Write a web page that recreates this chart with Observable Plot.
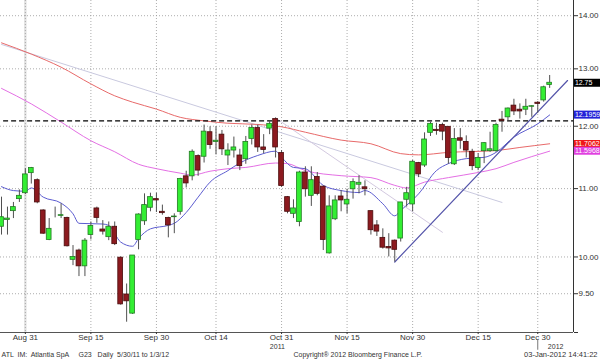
<!DOCTYPE html>
<html><head><meta charset="utf-8">
<script src="https://cdn.jsdelivr.net/npm/d3@7"></script>
<script src="https://cdn.jsdelivr.net/npm/@observablehq/plot@0.6"></script>
<style>
html,body{margin:0;padding:0;background:#fff;}
svg text{white-space:pre;}
</style></head><body><div id="chart"></div>
<script>
// Daily bars, Aug 25 2011 (index 0) .. Jan 3 2012 (index 92), trading days only
const opens = [10.43,10.53,10.66,10.84,10.93,11.24,11.13,10.67,10.24,10.64,
  10.59,10.56,9.96,10.09,9.87,10.31,10.70,10.39,10.28,10.43,
  9.99,9.49,9.24,10.24,10.51,10.71,10.84,10.65,10.56,10.57,
  10.65,11.19,11.19,11.51,11.50,11.90,11.74,11.86,11.52,11.60,
  11.52,11.46,11.79,11.97,11.65,11.96,12.12,11.56,10.87,10.62,
  10.50,11.25,10.89,11.18,11.03,10.05,10.54,10.88,10.76,10.99,
  11.06,11.02,10.66,10.45,10.27,10.14,10.23,10.26,10.83,10.76,
  11.40,11.36,11.89,11.94,12.02,11.99,11.38,11.80,11.74,11.58,
  11.32,11.59,11.59,11.59,12.11,12.15,12.35,12.28,12.28,12.33,
  12.40,12.44,12.71];
const highs = [10.87,10.72,10.79,10.98,11.31,11.33,11.15,10.68,10.55,10.72,
  10.77,10.57,10.16,10.11,10.26,10.50,10.72,10.52,10.50,10.50,
  10.00,9.63,10.02,10.62,10.92,10.93,10.93,10.75,10.57,10.62,
  11.16,11.27,11.61,11.53,12.02,11.99,11.99,11.93,11.71,11.82,
  11.62,11.83,12.02,12.02,11.86,12.09,12.14,11.60,10.88,10.83,
  11.27,11.34,11.34,11.25,11.04,10.89,10.89,10.97,10.99,11.15,
  11.20,11.12,10.66,10.52,10.40,10.33,10.24,10.79,11.02,11.44,
  11.41,11.89,12.07,12.05,12.05,11.99,11.96,11.96,11.84,11.62,
  11.55,11.73,11.90,12.05,12.25,12.31,12.46,12.38,12.46,12.35,
  12.42,12.69,12.88];
const lows = [10.31,10.31,10.55,10.79,10.91,11.07,10.77,10.32,10.23,10.56,
  10.55,10.14,9.88,9.73,9.73,10.24,10.48,10.31,10.23,10.16,
  9.35,9.13,9.23,10.10,10.45,10.65,10.64,10.60,10.27,10.33,
  10.60,11.01,11.12,11.19,11.40,11.62,11.53,11.52,11.36,11.48,
  11.28,11.38,11.69,11.57,11.55,11.86,11.48,11.02,10.62,10.55,
  10.43,10.87,10.73,10.89,10.09,10.04,10.52,10.65,10.62,10.84,
  10.92,10.89,10.31,10.29,10.11,10.00,9.93,10.21,10.72,10.65,
  11.17,11.33,11.83,11.85,11.76,11.38,11.36,11.62,11.48,11.28,
  11.28,11.39,11.57,11.57,11.90,12.09,12.18,12.12,12.18,12.15,
  12.22,12.41,12.65];
const closes = [10.57,10.55,10.72,10.89,11.22,11.32,10.79,10.33,10.40,10.64,
  10.60,10.15,10.00,9.87,10.23,10.44,10.56,10.36,10.43,10.18,
  9.36,9.40,10.02,10.61,10.75,10.87,10.82,10.63,10.45,10.58,
  11.15,11.08,11.58,11.28,11.91,11.69,11.76,11.62,11.60,11.65,
  11.35,11.74,11.97,11.65,11.61,12.04,11.65,11.04,10.65,10.70,
  11.25,10.99,11.13,10.92,10.24,10.73,10.82,10.82,10.83,11.10,
  11.09,10.99,10.38,10.36,10.13,10.12,10.10,10.79,10.93,11.42,
  11.22,11.78,12.04,11.92,11.91,11.48,11.79,11.76,11.60,11.35,
  11.48,11.72,11.62,12.02,12.09,12.30,12.25,12.25,12.33,12.34,
  12.38,12.67,12.75];

// x-axis ticks (bar index) and their labels
const tickIdx = [4,15,26,36,47,58,69,80,90];
const tickLabels = ["Aug 31","Sep 15","Sep 30","Oct 14","Oct 31","Nov 15","Nov 30","Dec 15","Dec 30"];
const yearIdx = [46.3,93];
const yearLabels = ["2011","2012"];
const priceTicks = [14,13,12,11,10,9.5,9];

// studies (sampled along the series)
const blueIdx = [0,2,4,5,7,10,12,13,17,18,20,22,23,25,28,29,31,33,35,38,40,43,46,47,49,51,54,57,60,61,64,66,67,70,73,75,78,81,83,86,90,92];
const blueVal = [11.03,10.97,10.96,11.01,10.87,10.78,10.62,10.48,10.47,10.45,10.21,10.15,10.26,10.40,10.45,10.48,10.64,10.87,11.10,11.28,11.40,11.52,11.59,11.49,11.33,11.31,11.05,10.97,10.94,10.97,10.77,10.59,10.67,10.92,11.28,11.39,11.47,11.49,11.57,11.82,12.04,12.19];
const redIdx = [0,5,10,15,19,22,26,30,34,38,43,47,51,57,62,67,70,75,83,87,92];
const redVal = [13.48,13.27,13.03,12.73,12.52,12.41,12.29,12.15,12.09,12.05,12.03,11.99,11.90,11.77,11.71,11.55,11.53,11.57,11.60,11.65,11.71];
const magIdx = [0,5,10,15,19,23,26,30,32,35,38,41,46,48,51,57,62,66,68,71,75,80,83,86,92];
const magVal = [12.65,12.38,12.07,11.76,11.58,11.38,11.31,11.24,11.21,11.27,11.31,11.33,11.40,11.39,11.28,11.20,11.17,11.05,11.01,11.10,11.17,11.25,11.31,11.41,11.59];

// drawn trend lines: [startIdx, startPrice, endIdx, endPrice]
const greyLineA = [0, 13.45, 84, 10.79];
const greyLineB = [46, 12.14, 74, 10.35];
const blueTrend = [66, 9.93, 95, 12.79];
const resistance = 12.09;

// last-value tags
const tagValues = [12.75, 12.1959, 11.7062, 11.5968];
const tagTexts = ["12.75", "12.1959", "11.7062", "11.5968"];
const tagColors = ["#000000", "#2323d8", "#f01818", "#e040e0"];

const bars = opens.map((o, i) => ({i, open: o, high: highs[i], low: lows[i], close: closes[i]}));
const pts = (idx, val) => idx.map((i, k) => ({i, v: val[k]}));
const seg = (a) => [{i: a[0], v: a[1]}, {i: a[2], v: a[3]}];
const tags = tagValues.map((v, k) => ({v, t: tagTexts[k], c: tagColors[k]}));
const years = yearIdx.map((i, k) => ({i, t: yearLabels[k]}));

const bodyFill = d => d.close > d.open ? "#33ee33" : d.close < d.open ? "#8c1a1f" : "#b0b0b0";
const bodyStroke = d => d.close > d.open ? "#237a23" : d.close < d.open ? "#4a0c0c" : "#9a9a9a";

const FONT = "'Liberation Sans Narrow', 'Liberation Sans', Arial, sans-serif";

const chart = Plot.plot({
  width: 600, height: 359,
  marginLeft: 0, marginRight: 27, marginTop: 0, marginBottom: 27,
  style: {fontFamily: FONT, fontSize: "8px", background: "#fff", color: "#333"},
  x: {type: "linear", domain: [-0.17, 96], label: null},
  y: {type: "log", domain: [9, 14.3], label: null},
  color: {type: "identity"},
  marks: [
    Plot.ruleX([4], {stroke: "#e2e2e2", strokeWidth: 2.5}),
    Plot.gridY(priceTicks.filter(t => t !== 9), {stroke: "#999", strokeOpacity: 0.8, strokeDasharray: "1,2"}),
    Plot.gridX(tickIdx, {stroke: "#999", strokeOpacity: 0.8, strokeDasharray: "1,2"}),
    Plot.line(seg(greyLineA), {x: "i", y: "v", stroke: "#c9c9df", strokeWidth: 1}),
    Plot.line(seg(greyLineB), {x: "i", y: "v", stroke: "#d3c9e0", strokeWidth: 1}),
    Plot.line(pts(redIdx, redVal), {x: "i", y: "v", stroke: "#e86a6a", strokeWidth: 1, curve: "monotone-x"}),
    Plot.line(pts(magIdx, magVal), {x: "i", y: "v", stroke: "#e46fe4", strokeWidth: 1, curve: "monotone-x"}),
    Plot.line(pts(blueIdx, blueVal), {x: "i", y: "v", stroke: "#5c5cd0", strokeWidth: 1, curve: "monotone-x"}),
    Plot.line(seg(blueTrend), {x: "i", y: "v", stroke: "#5555aa", strokeWidth: 1.2}),
    Plot.ruleY([resistance], {x1: 0.35, x2: 96, stroke: "#000", strokeWidth: 1.4, strokeDasharray: "5,3"}),
    Plot.ruleX(bars, {x: "i", y1: "low", y2: "high", stroke: "#505050", strokeWidth: 1}),
    Plot.rect(bars, {x1: d => d.i - 0.4, x2: d => d.i + 0.4, y1: "open", y2: "close",
      fill: bodyFill, stroke: bodyStroke, strokeWidth: 0.8}),
    Plot.ruleX([96], {stroke: "#333", strokeWidth: 1}),
    Plot.ruleY([9], {stroke: "#555", strokeWidth: 1}),
    Plot.axisY(priceTicks, {anchor: "right", tickFormat: d3.format(".2f"), tickSize: 4, tickPadding: 1,
      fontSize: 8, label: null, stroke: "#333"}),
    Plot.axisX(tickIdx, {tickFormat: d => tickLabels[tickIdx.indexOf(d)], tickSize: 2, tickPadding: 0,
      fontSize: 8, label: null}),
    Plot.text(years, {x: "i", text: "t", frameAnchor: "bottom", lineAnchor: "middle", dy: 14.5, fontSize: 7}),
    Plot.ruleX([90], {y1: 8.9, y2: 8.78, stroke: "#777", strokeWidth: 1}),
    Plot.ruleY(tags, {y: "v", x1: 96.15, x2: 100.7, stroke: "c", strokeWidth: 8}),
    Plot.text(tags, {y: "v", x: 96.15, text: "t", textAnchor: "start", fill: "#fff", fontSize: 7, dx: 0.5}),
    Plot.text(["ATL  IM:  Atlantia SpA     G23   Daily  5/30/11 to 1/3/12"], {text: d => d, frameAnchor: "bottom-left",
      textAnchor: "start", lineAnchor: "middle", dx: 1, dy: 22.5, fontSize: 7, fill: "#333"}),
    Plot.text(["Copyright\u00ae 2012 Bloomberg Finance L.P."], {text: d => d, frameAnchor: "bottom-left",
      textAnchor: "start", lineAnchor: "middle", dx: 293, dy: 22.5, fontSize: 7, fill: "#333"}),
    Plot.text(["03-Jan-2012 14:41:22"], {text: d => d, frameAnchor: "bottom-right",
      textAnchor: "end", lineAnchor: "middle", dx: 24, dy: 22.5, fontSize: 7.5, fill: "#333"})
  ]
});
document.getElementById("chart").appendChild(chart);
</script></body></html>
